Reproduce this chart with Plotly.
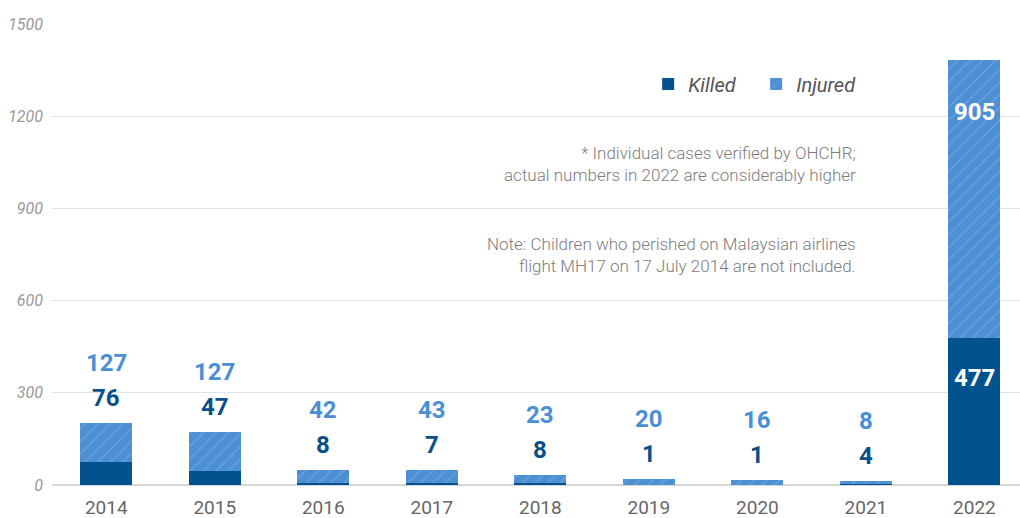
import plotly.graph_objects as go

years = ["2014", "2015", "2016", "2017", "2018", "2019", "2020", "2021", "2022"]
killed = [76, 47, 8, 7, 8, 1, 1, 4, 477]
injured = [127, 127, 42, 43, 23, 20, 16, 8, 905]
y_ticks = [0, 300, 600, 900, 1200, 1500]

DARK = "#02528E"
LIGHT = "#4C8FD3"
FONT = "Roboto"

fig = go.Figure()
fig.add_trace(go.Bar(
    x=years, y=killed, name="Killed", width=0.48,
    marker=dict(color=DARK, line=dict(width=0)),
))
fig.add_trace(go.Bar(
    x=years, y=injured, name="Injured", width=0.48,
    marker=dict(color=LIGHT, line=dict(width=0),
                pattern=dict(shape="/", fgcolor="rgba(255,255,255,0.45)",
                             bgcolor=LIGHT, size=9, solidity=0.12, fillmode="overlay")),
))

annotations = []
for i, yr in enumerate(years):
    tot = killed[i] + injured[i]
    if yr == "2022":
        annotations.append(dict(x=i, y=tot, text=f"<b>{injured[i]}</b>", showarrow=False,
                                yanchor="middle", yshift=-52,
                                font=dict(family=FONT, size=24, color="white")))
        annotations.append(dict(x=i, y=killed[i], text=f"<b>{killed[i]}</b>", showarrow=False,
                                yanchor="middle", yshift=-40,
                                font=dict(family=FONT, size=24, color="white")))
    else:
        annotations.append(dict(x=i, y=tot, text=f"<b>{killed[i]}</b>", showarrow=False,
                                yanchor="middle", yshift=25,
                                font=dict(family=FONT, size=24, color="#0B4F88")))
        annotations.append(dict(x=i, y=tot, text=f"<b>{injured[i]}</b>", showarrow=False,
                                yanchor="middle", yshift=60,
                                font=dict(family=FONT, size=24, color="#4A8FD6")))

note_font = dict(family=FONT, size=17, color="#7d7d7d", weight=300)
annotations.append(dict(xref="paper", yref="paper", x=0.8325, y=(485 - 164) / 461,
                        xanchor="right", yanchor="middle", align="right", showarrow=False,
                        text="* Individual cases verified by OHCHR;<br>actual numbers in 2022 are considerably higher",
                        font=note_font))
annotations.append(dict(xref="paper", yref="paper", x=0.8325, y=(485 - 255) / 461,
                        xanchor="right", yanchor="middle", align="right", showarrow=False,
                        text="Note: Children who perished on Malaysian airlines<br>flight MH17 on 17 July 2014 are not included.",
                        font=note_font))

fig.update_layout(
    width=1020, height=518,
    margin=dict(l=52, r=0, t=24, b=33),
    paper_bgcolor="white", plot_bgcolor="white",
    barmode="stack",
    bargap=0.52,
    showlegend=True,
    legend=dict(orientation="h", x=0.839, xanchor="right", y=(485 - 84) / 461, yanchor="middle",
                font=dict(family=FONT, size=20, color="#555555", style="italic"),
                entrywidth=63, entrywidthmode="pixels",
                bgcolor="rgba(0,0,0,0)", traceorder="normal"),
    xaxis=dict(type="category", range=[-0.5, 8.42], showgrid=False, showline=False, zeroline=False,
               ticks="", ticklabelstandoff=9,
               tickfont=dict(family=FONT, size=19, color="#666666")),
    yaxis=dict(range=[0, 1500.6], tickvals=y_ticks, ticktext=[str(v) for v in y_ticks],
               showgrid=True, gridcolor="#e2e2e2", gridwidth=1, zeroline=True,
               zerolinecolor="#d6d6d6", zerolinewidth=1.5, showline=False, ticks="",
               ticklabelstandoff=8,
               tickfont=dict(family=FONT, size=16, color="#999999", style="italic")),
    annotations=annotations,
    font=dict(family=FONT),
)

fig.write_html("out.html", config={"displayModeBar": False},
               post_script="document.body.style.margin='0';document.body.style.padding='0';")
